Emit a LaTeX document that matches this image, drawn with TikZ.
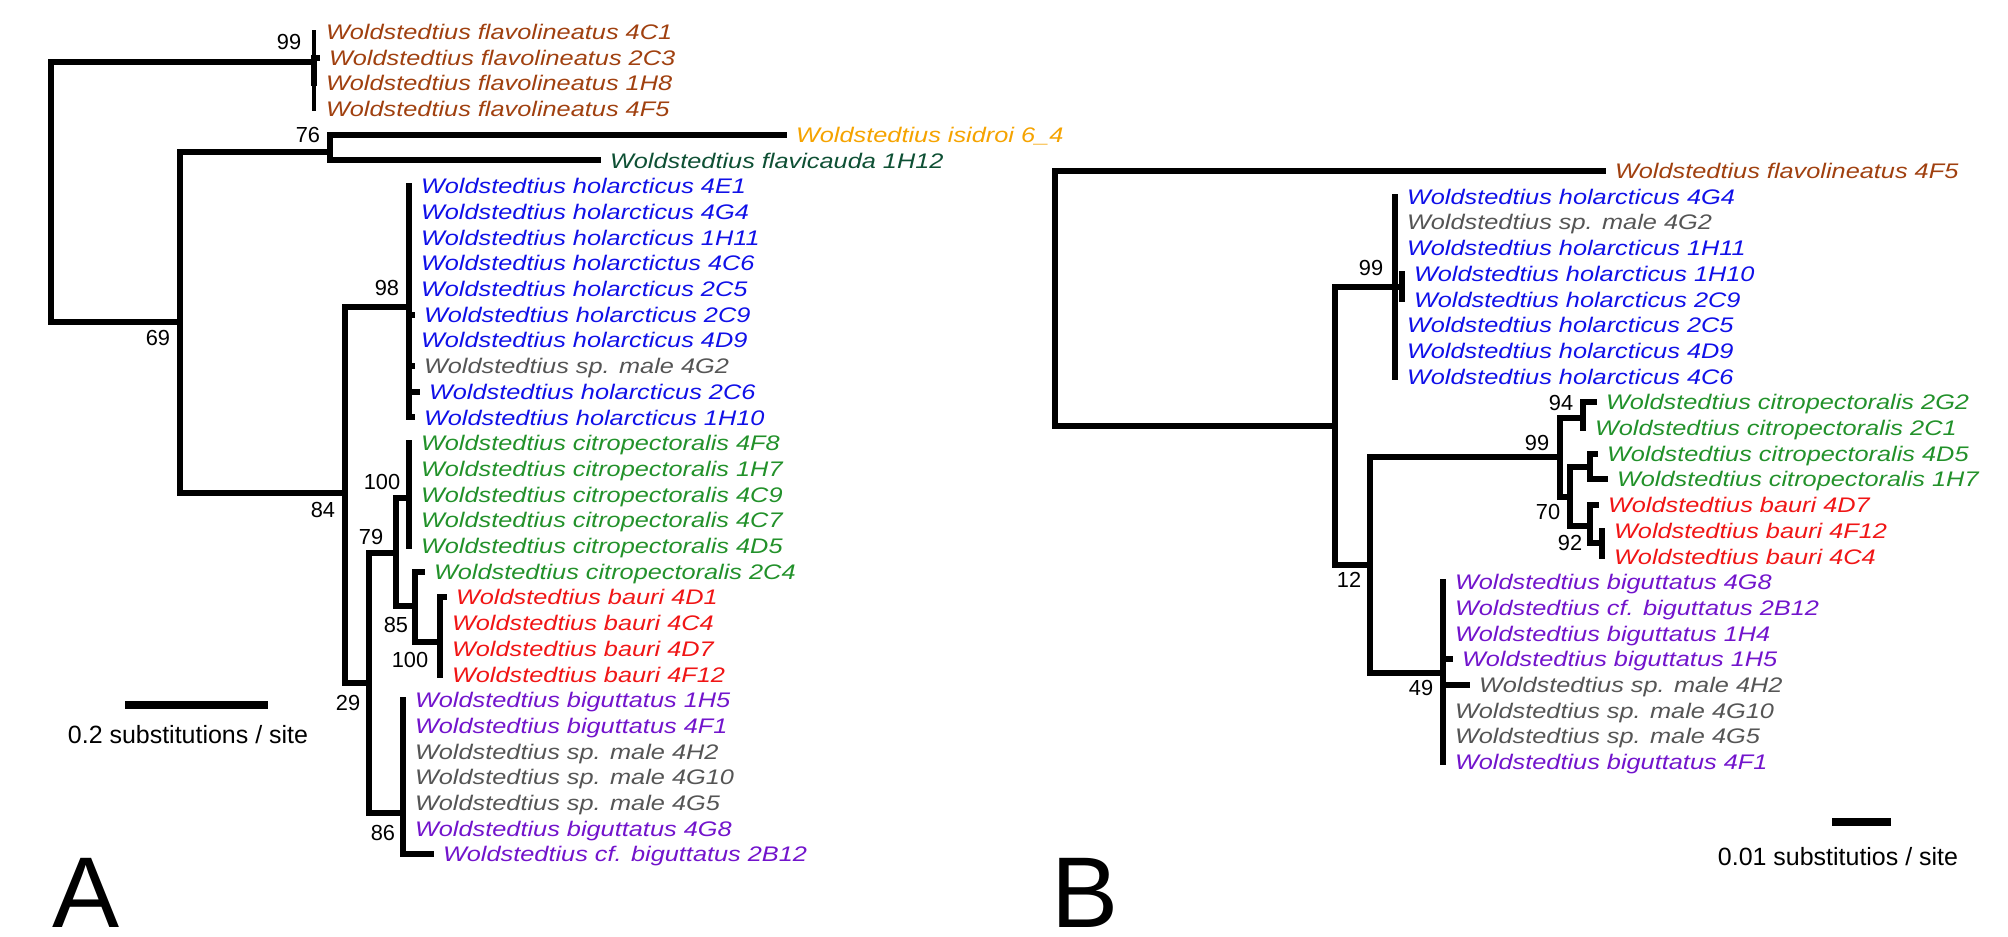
\documentclass[tikz,border=0pt]{standalone}
\usepackage{fontspec}
\usepackage{graphicx}
\setmainfont{Liberation Sans}
\definecolor{treeFla}{HTML}{A0400F}
\definecolor{treeIsi}{HTML}{F5A300}
\definecolor{treeFlc}{HTML}{0E5034}
\definecolor{treeHol}{HTML}{1010E8}
\definecolor{treeSp}{HTML}{555555}
\definecolor{treeCit}{HTML}{22912A}
\definecolor{treeBau}{HTML}{F01515}
\definecolor{treeBig}{HTML}{7214CC}
\tikzset{
  tree diagram/.style={
    x=0.01cm, y=-0.01cm, line width=0.06cm, line cap=rect, line join=miter,
    every node/.style={inner sep=0pt, outer sep=0pt}
  },
  tree leaf/.style={anchor=west, xshift=0.12cm, text=#1,
    text height=4.3pt, text depth=0pt, font=\fontsize{6}{7}\selectfont\itshape},
  tree boot/.style={text height=4.46pt, text depth=0pt,
    font=\fontsize{6.2}{7}\selectfont},
  tree scale/.style={text height=5.1pt, text depth=0pt,
    font=\fontsize{7.1}{8}\selectfont},
  tree panel/.style={anchor=base west, font=\fontsize{28.6}{30}\selectfont},
  tree thin/.style={line width=0.04cm},
  tree bar/.style={line width=0.07cm}
}
\newcommand{\sptxt}[1]{\scalebox{1.2}[1]{#1}}

\begin{document}
\begin{tikzpicture}[tree diagram]
  \useasboundingbox (0,0) rectangle (2008,937);
  % panel A, leaves
  \path (314,32.0) coordinate (a4C1) node[tree leaf=treeFla] (la4C1) {\sptxt{Woldstedtius flavolineatus 4C1}};
  \path (317,57.7) coordinate (a2C3) node[tree leaf=treeFla] (la2C3) {\sptxt{Woldstedtius flavolineatus 2C3}};
  \path (314,83.4) coordinate (a1H8) node[tree leaf=treeFla] (la1H8) {\sptxt{Woldstedtius flavolineatus 1H8}};
  \path (314,109.1) coordinate (a4F5) node[tree leaf=treeFla] (la4F5) {\sptxt{Woldstedtius flavolineatus 4F5}};
  \path (784,134.8) coordinate (aIsi) node[tree leaf=treeIsi] (laIsi) {\sptxt{Woldstedtius isidroi 6\_4}};
  \path (598,160.5) coordinate (aFlc) node[tree leaf=treeFlc] (laFlc) {\sptxt{Woldstedtius flavicauda 1H12}};
  \path (409,186.2) coordinate (a4E1) node[tree leaf=treeHol] (la4E1) {\sptxt{Woldstedtius holarcticus 4E1}};
  \path (409,211.9) coordinate (a4G4) node[tree leaf=treeHol] (la4G4) {\sptxt{Woldstedtius holarcticus 4G4}};
  \path (409,237.6) coordinate (a1H11) node[tree leaf=treeHol] (la1H11) {\sptxt{Woldstedtius holarcticus 1H11}};
  \path (409,263.3) coordinate (a4C6) node[tree leaf=treeHol] (la4C6) {\sptxt{Woldstedtius holarctictus 4C6}};
  \path (409,289.0) coordinate (a2C5) node[tree leaf=treeHol] (la2C5) {\sptxt{Woldstedtius holarcticus 2C5}};
  \path (412,314.7) coordinate (a2C9) node[tree leaf=treeHol] (la2C9) {\sptxt{Woldstedtius holarcticus 2C9}};
  \path (409,340.4) coordinate (a4D9) node[tree leaf=treeHol] (la4D9) {\sptxt{Woldstedtius holarcticus 4D9}};
  \path (412,366.1) coordinate (a4G2) node[tree leaf=treeSp] (la4G2) {\sptxt{Woldstedtius sp. male 4G2}};
  \path (417,391.8) coordinate (a2C6) node[tree leaf=treeHol] (la2C6) {\sptxt{Woldstedtius holarcticus 2C6}};
  \path (412,417.5) coordinate (a1H10) node[tree leaf=treeHol] (la1H10) {\sptxt{Woldstedtius holarcticus 1H10}};
  \path (409,443.2) coordinate (a4F8) node[tree leaf=treeCit] (la4F8) {\sptxt{Woldstedtius citropectoralis 4F8}};
  \path (409,468.9) coordinate (a1H7) node[tree leaf=treeCit] (la1H7) {\sptxt{Woldstedtius citropectoralis 1H7}};
  \path (409,494.6) coordinate (a4C9) node[tree leaf=treeCit] (la4C9) {\sptxt{Woldstedtius citropectoralis 4C9}};
  \path (409,520.3) coordinate (a4C7) node[tree leaf=treeCit] (la4C7) {\sptxt{Woldstedtius citropectoralis 4C7}};
  \path (409,546.0) coordinate (a4D5) node[tree leaf=treeCit] (la4D5) {\sptxt{Woldstedtius citropectoralis 4D5}};
  \path (422,571.7) coordinate (a2C4) node[tree leaf=treeCit] (la2C4) {\sptxt{Woldstedtius citropectoralis 2C4}};
  \path (444,597.4) coordinate (a4D1) node[tree leaf=treeBau] (la4D1) {\sptxt{Woldstedtius bauri 4D1}};
  \path (440,623.1) coordinate (a4C4) node[tree leaf=treeBau] (la4C4) {\sptxt{Woldstedtius bauri 4C4}};
  \path (440,648.8) coordinate (a4D7) node[tree leaf=treeBau] (la4D7) {\sptxt{Woldstedtius bauri 4D7}};
  \path (440,674.5) coordinate (a4F12) node[tree leaf=treeBau] (la4F12) {\sptxt{Woldstedtius bauri 4F12}};
  \path (403,700.2) coordinate (a1H5) node[tree leaf=treeBig] (la1H5) {\sptxt{Woldstedtius biguttatus 1H5}};
  \path (403,725.9) coordinate (a4F1) node[tree leaf=treeBig] (la4F1) {\sptxt{Woldstedtius biguttatus 4F1}};
  \path (403,751.6) coordinate (a4H2) node[tree leaf=treeSp] (la4H2) {\sptxt{Woldstedtius sp. male 4H2}};
  \path (403,777.3) coordinate (a4G10) node[tree leaf=treeSp] (la4G10) {\sptxt{Woldstedtius sp. male 4G10}};
  \path (403,803.0) coordinate (a4G5) node[tree leaf=treeSp] (la4G5) {\sptxt{Woldstedtius sp. male 4G5}};
  \path (403,828.7) coordinate (a4G8) node[tree leaf=treeBig] (la4G8) {\sptxt{Woldstedtius biguttatus 4G8}};
  \path (431,854.4) coordinate (a2B12) node[tree leaf=treeBig] (la2B12) {\sptxt{Woldstedtius cf. biguttatus 2B12}};
  % panel A, inner nodes
  \coordinate (rootA) at (51,192);
  \coordinate (nFla) at (314,62);
  \coordinate (n69) at (180,322);
  \coordinate (n76) at (330,152);
  \coordinate (n84) at (345,493);
  \coordinate (n98) at (409,307);
  \coordinate (n29) at (369,683);
  \coordinate (n79) at (396,553);
  \coordinate (n100c) at (409,498);
  \coordinate (n85) at (415,606);
  \coordinate (n100b) at (440,642);
  \coordinate (n86) at (403,813);
  \draw (rootA) |- (nFla);
  \draw (rootA) |- (n69);
  \draw[tree thin] (nFla |- a4C1) -- (nFla |- a4F5);
  \draw (nFla |- a2C3) -- (nFla |- a1H8);
  \draw (nFla |- a2C3) -- (a2C3);
  \draw (n69) |- (n76);
  \draw (n69) |- (n84);
  \draw (n76) |- (aIsi);
  \draw (n76) |- (aFlc);
  \draw (n84) |- (n98);
  \draw (n84) |- (n29);
  \draw (n98 |- a4E1) -- (n98 |- a1H10);
  \draw (n98 |- a2C9) -- (a2C9);
  \draw (n98 |- a4G2) -- (a4G2);
  \draw (n98 |- a2C6) -- (a2C6);
  \draw (n98 |- a1H10) -- (a1H10);
  \draw (n29) |- (n79);
  \draw (n29) |- (n86);
  \draw (n79) |- (n100c);
  \draw (n79) |- (n85);
  \draw (n100c |- a4F8) -- (n100c |- a4D5);
  \draw (n85) |- (a2C4);
  \draw (n85) |- (n100b);
  \draw (n100b |- a4D1) -- (n100b |- a4F12);
  \draw (n100b |- a4D1) -- (a4D1);
  \draw (n86 |- a1H5) |- (a2B12);
  % panel A, support values
  \node[tree boot] (bA99) at (289,42) {99};
  \node[tree boot] (bA76) at (308,135) {76};
  \node[tree boot] (bA69) at (158,338) {69};
  \node[tree boot] (bA98) at (387,288) {98};
  \node[tree boot] (bA84) at (323,510) {84};
  \node[tree boot] (bA100c) at (382,482) {100};
  \node[tree boot] (bA79) at (371,537) {79};
  \node[tree boot] (bA29) at (348,703) {29};
  \node[tree boot] (bA85) at (396,625) {85};
  \node[tree boot] (bA100b) at (410,660) {100};
  \node[tree boot] (bA86) at (383,833) {86};
  % panel A, scale and letter
  \coordinate (sbA1) at (129,705);
  \coordinate (sbA2) at (264,705);
  \draw[tree bar] (sbA1) -- (sbA2);
  \node[tree scale] (sA) at (188,735) {0.2 substitutions / site};
  \node[tree panel] (pA) at (52,928) {A};
  % panel B, leaves
  \path (1603,171.0) coordinate (bFla) node[tree leaf=treeFla] (lbFla) {\sptxt{Woldstedtius flavolineatus 4F5}};
  \path (1395,196.7) coordinate (b4G4) node[tree leaf=treeHol] (lb4G4) {\sptxt{Woldstedtius holarcticus 4G4}};
  \path (1395,222.4) coordinate (b4G2) node[tree leaf=treeSp] (lb4G2) {\sptxt{Woldstedtius sp. male 4G2}};
  \path (1395,248.1) coordinate (b1H11) node[tree leaf=treeHol] (lb1H11) {\sptxt{Woldstedtius holarcticus 1H11}};
  \path (1402,273.8) coordinate (b1H10) node[tree leaf=treeHol] (lb1H10) {\sptxt{Woldstedtius holarcticus 1H10}};
  \path (1402,299.5) coordinate (b2C9) node[tree leaf=treeHol] (lb2C9) {\sptxt{Woldstedtius holarcticus 2C9}};
  \path (1395,325.2) coordinate (b2C5) node[tree leaf=treeHol] (lb2C5) {\sptxt{Woldstedtius holarcticus 2C5}};
  \path (1395,350.9) coordinate (b4D9) node[tree leaf=treeHol] (lb4D9) {\sptxt{Woldstedtius holarcticus 4D9}};
  \path (1395,376.6) coordinate (b4C6) node[tree leaf=treeHol] (lb4C6) {\sptxt{Woldstedtius holarcticus 4C6}};
  \path (1594,402.3) coordinate (b2G2) node[tree leaf=treeCit] (lb2G2) {\sptxt{Woldstedtius citropectoralis 2G2}};
  \path (1583,428.0) coordinate (b2C1) node[tree leaf=treeCit] (lb2C1) {\sptxt{Woldstedtius citropectoralis 2C1}};
  \path (1595,453.7) coordinate (b4D5) node[tree leaf=treeCit] (lb4D5) {\sptxt{Woldstedtius citropectoralis 4D5}};
  \path (1605,479.4) coordinate (b1H7) node[tree leaf=treeCit] (lb1H7) {\sptxt{Woldstedtius citropectoralis 1H7}};
  \path (1596,505.1) coordinate (b4D7) node[tree leaf=treeBau] (lb4D7) {\sptxt{Woldstedtius bauri 4D7}};
  \path (1602,530.8) coordinate (b4F12) node[tree leaf=treeBau] (lb4F12) {\sptxt{Woldstedtius bauri 4F12}};
  \path (1602,556.5) coordinate (b4C4) node[tree leaf=treeBau] (lb4C4) {\sptxt{Woldstedtius bauri 4C4}};
  \path (1443,582.2) coordinate (b4G8) node[tree leaf=treeBig] (lb4G8) {\sptxt{Woldstedtius biguttatus 4G8}};
  \path (1443,607.9) coordinate (b2B12) node[tree leaf=treeBig] (lb2B12) {\sptxt{Woldstedtius cf. biguttatus 2B12}};
  \path (1443,633.6) coordinate (b1H4) node[tree leaf=treeBig] (lb1H4) {\sptxt{Woldstedtius biguttatus 1H4}};
  \path (1450,659.3) coordinate (b1H5) node[tree leaf=treeBig] (lb1H5) {\sptxt{Woldstedtius biguttatus 1H5}};
  \path (1467,685.0) coordinate (b4H2) node[tree leaf=treeSp] (lb4H2) {\sptxt{Woldstedtius sp. male 4H2}};
  \path (1443,710.7) coordinate (b4G10) node[tree leaf=treeSp] (lb4G10) {\sptxt{Woldstedtius sp. male 4G10}};
  \path (1443,736.4) coordinate (b4G5) node[tree leaf=treeSp] (lb4G5) {\sptxt{Woldstedtius sp. male 4G5}};
  \path (1443,762.1) coordinate (b4F1) node[tree leaf=treeBig] (lb4F1) {\sptxt{Woldstedtius biguttatus 4F1}};
  % panel B, inner nodes
  \coordinate (rootB) at (1055,300);
  \coordinate (mB1) at (1335,426);
  \coordinate (mBhol) at (1395,287);
  \coordinate (mBhi) at (1402,287);
  \coordinate (mB2) at (1370,565);
  \coordinate (mB99) at (1560,457);
  \coordinate (mB94) at (1583,418);
  \coordinate (mB70) at (1570,497);
  \coordinate (mBcit) at (1590,467);
  \coordinate (mBbau) at (1590,526);
  \coordinate (mB92) at (1602,543);
  \coordinate (mB49) at (1443,673);
  \draw (rootB) |- (bFla);
  \draw (rootB) |- (mB1);
  \draw (mB1) |- (mBhol);
  \draw (mB1) |- (mB2);
  \draw (mBhol |- b4G4) -- (mBhol |- b4C6);
  \draw (mBhol) -- (mBhi);
  \draw (mBhi |- b1H10) -- (mBhi |- b2C9);
  \draw (mB2) |- (mB99);
  \draw (mB2) |- (mB49);
  \draw (mB99) |- (mB94);
  \draw (mB99) |- (mB70);
  \draw (mB94 |- b2G2) -- (mB94 |- b2C1);
  \draw (mB94 |- b2G2) -- (b2G2);
  \draw (mB70) |- (mBcit);
  \draw (mB70) |- (mBbau);
  \draw (mBcit |- b4D5) -- (mBcit |- b1H7);
  \draw (mBcit |- b4D5) -- (b4D5);
  \draw (mBcit |- b1H7) -- (b1H7);
  \draw (mBbau |- b4D7) -- (b4D7);
  \draw (mBbau |- b4D7) |- (mB92);
  \draw (mB92 |- b4F12) -- (mB92 |- b4C4);
  \draw (mB49 |- b4G8) -- (mB49 |- b4F1);
  \draw (mB49 |- b1H5) -- (b1H5);
  \draw (mB49 |- b4H2) -- (b4H2);
  % panel B, support values
  \node[tree boot] (bB99h) at (1371,268) {99};
  \node[tree boot] (bB12) at (1349,580) {12};
  \node[tree boot] (bB99c) at (1537,443) {99};
  \node[tree boot] (bB94) at (1561,403) {94};
  \node[tree boot] (bB70) at (1548,512) {70};
  \node[tree boot] (bB92) at (1570,543) {92};
  \node[tree boot] (bB49) at (1421,688) {49};
  % panel B, scale and letter
  \coordinate (sbB1) at (1835,822);
  \coordinate (sbB2) at (1887,822);
  \draw[tree bar] (sbB1) -- (sbB2);
  \node[tree scale] (sB) at (1838,857) {0.01 substitutios / site};
  \node[tree panel] (pB) at (1051,928) {B};
\end{tikzpicture}
\end{document}
